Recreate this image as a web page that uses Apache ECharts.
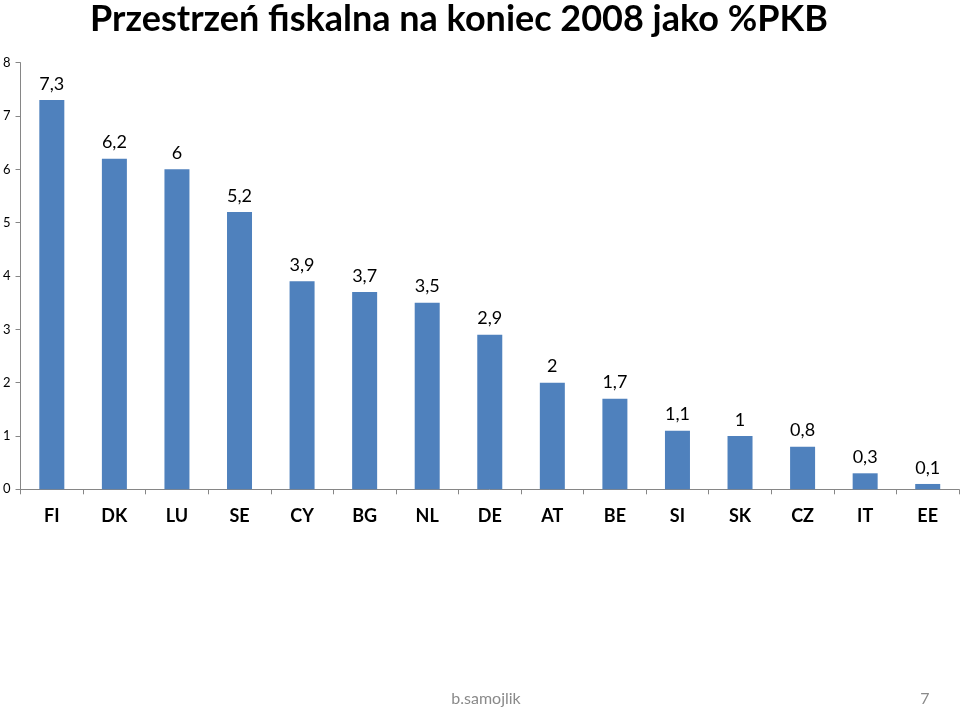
<!DOCTYPE html>
<html><head><meta charset="utf-8">
<script src="https://cdn.jsdelivr.net/npm/echarts@6/dist/echarts.min.js"></script>
<style>html,body{margin:0;padding:0;background:#fff}#c{width:960px;height:707px}</style>
</head><body><div id="c"></div>
<script>
const categories = ['FI','DK','LU','SE','CY','BG','NL','DE','AT','BE','SI','SK','CZ','IT','EE'];
const values = [7.3, 6.2, 6, 5.2, 3.9, 3.7, 3.5, 2.9, 2, 1.7, 1.1, 1, 0.8, 0.3, 0.1];
const yTicks = [0, 8, 1];
const chart = echarts.init(document.getElementById('c'));
chart.setOption({
  animation: false,
  title: [{
    text: 'Przestrzeń fiskalna na koniec 2008 jako %PKB',
    left: 454, top: -4, textAlign: 'center',
    textStyle: {fontFamily: 'Lato, sans-serif', fontWeight: 'bold', fontSize: 36, color: '#000'}
  }, {
    text: 'b.samojlik', left: 481, top: 686, textAlign: 'center',
    textStyle: {fontFamily: 'Lato, sans-serif', fontWeight: 'normal', fontSize: 16, color: '#8a8a8a'}
  }, {
    text: '7', left: 920, top: 686, textAlign: 'center',
    textStyle: {fontFamily: 'Lato, sans-serif', fontWeight: 'normal', fontSize: 16, color: '#8a8a8a'}
  }],
  grid: {left: 20, right: 1, top: 62.7, bottom: 707 - 489.3, containLabel: false},
  xAxis: {
    type: 'category', data: categories,
    axisLine: {lineStyle: {color: '#868686'}},
    axisTick: {show: true, length: 5, lineStyle: {color: '#868686'}},
    axisLabel: {fontFamily: 'Lato, sans-serif', fontWeight: 'bold', fontSize: 18, color: '#000', margin: 18}
  },
  yAxis: {
    type: 'value', min: yTicks[0], max: yTicks[1], interval: yTicks[2],
    splitLine: {show: false},
    axisLine: {show: true, lineStyle: {color: '#868686'}},
    axisTick: {show: true, length: 5, lineStyle: {color: '#868686'}},
    axisLabel: {fontFamily: 'Lato, sans-serif', fontSize: 13, color: '#000', margin: 10}
  },
  series: [{
    type: 'bar', data: values, barWidth: 25,
    itemStyle: {color: '#4F81BD'},
    label: {show: true, position: 'top', distance: 7,
      fontFamily: 'Lato, sans-serif', fontSize: 18, color: '#000',
      formatter: p => String(p.value).replace('.', ',')}
  }]
});
</script></body></html>
